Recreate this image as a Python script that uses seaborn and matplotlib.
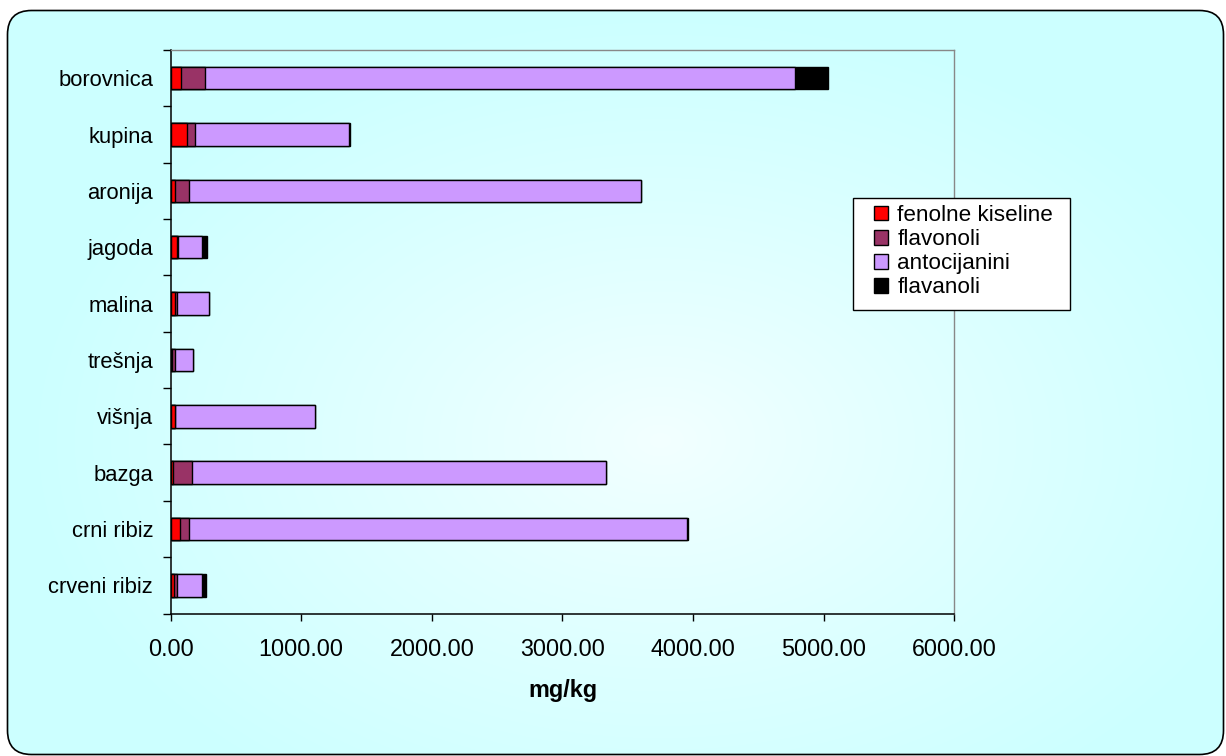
# Fenolni spojevi u bobičastom voću - horizontalni složeni stupci (mg/kg)

import numpy as np
import pandas as pd
import matplotlib
matplotlib.use('Agg')
import matplotlib.pyplot as plt
import seaborn as sns
from matplotlib.patches import Patch, Rectangle, FancyBboxPatch

# 1. Podaci (očitano s grafa)

fruits = ['borovnica', 'kupina', 'aronija', 'jagoda', 'malina',
          'trešnja', 'višnja', 'bazga', 'crni ribiz', 'crveni ribiz']
fenolne_kiseline = [82, 128, 36, 48, 31, 10, 31, 15, 74, 26]
flavonoli = [183, 56, 104, 8, 20, 21, 5, 146, 66, 21]
antocijanini = [4516, 1178, 3459, 184, 245, 143, 1072, 3172, 3810, 196]
flavanoli = [255, 13, 4, 35, 0, 0, 0, 0, 14, 26]

series = ['fenolne kiseline', 'flavonoli', 'antocijanini', 'flavanoli']
colors = ['#FF0000', '#993366', '#CC99FF', '#000000']

df = pd.DataFrame({'voce': fruits,
                   'fenolne kiseline': fenolne_kiseline,
                   'flavonoli': flavonoli,
                   'antocijanini': antocijanini,
                   'flavanoli': flavanoli})

# cumulative sums -> draw longest first so the segments stack
cum = df[series].cumsum(axis=1)
cum['voce'] = df['voce']

sns.set_style('white')
plt.rcParams['font.family'] = ['Liberation Sans', 'DejaVu Sans']
plt.rcParams['font.size'] = 15.5
plt.rcParams['text.color'] = 'black'
plt.rcParams['xtick.color'] = 'black'
plt.rcParams['ytick.color'] = 'black'
plt.rcParams['axes.labelcolor'] = 'black'

W, H = 1226, 756
fig = plt.figure(figsize=(W / 100, H / 100), dpi=100, facecolor='white')

# 2. Background: light cyan radial gradient inside a rounded frame

bg = fig.add_axes([0, 0, 1, 1], zorder=-10)
bg.set_xlim(0, W)
bg.set_ylim(H, 0)
bg.axis('off')
yy, xx = np.mgrid[0:H, 0:W]
d = np.sqrt(((xx - 660) / 640) ** 2 + ((yy - 440) / 430) ** 2)
t = np.clip(d, 0, 1) ** 0.9
red = (243 - (243 - 204) * t) / 255
img = np.dstack([red, np.ones_like(red), np.ones_like(red)])
im = bg.imshow(img, extent=(0, W, H, 0), aspect='auto', interpolation='bilinear')
frame = FancyBboxPatch((7.5, 10.5), 1216, 744,
                       boxstyle='round,pad=0,rounding_size=24',
                       facecolor='none', edgecolor='black', linewidth=1.2)
bg.add_patch(frame)
im.set_clip_path(frame)

# 3. Chart

left, right, top, bottom = 170.6, 954.4, 50, 613.5
ax = fig.add_axes([left / W, 1 - bottom / H, (right - left) / W, (bottom - top) / H])
ax.set_facecolor('none')

for name, col in reversed(list(zip(series, colors))):
    sns.barplot(data=cum, x=name, y='voce', orient='h', order=fruits,
                color=col, saturation=1, width=0.4, errorbar=None,
                edgecolor='black', linewidth=1.0, ax=ax)

ax.set_xlim(0, 6000)
ax.set_ylim(9.5, -0.5)
ax.set_xticks(np.arange(0, 6001, 1000))
ax.set_xticklabels([f'{v:.2f}' for v in np.arange(0, 6001, 1000)], fontsize=16.8)
ax.set_yticks(np.arange(-0.5, 10, 1), minor=True)
ax.tick_params(axis='y', which='major', length=0, pad=12.5, labelsize=15.8)
ax.tick_params(axis='y', which='minor', length=5.8, width=1, color='black', left=True)
ax.tick_params(axis='x', which='major', length=5, width=1, color='black', bottom=True, pad=12.5)
ax.set_ylabel('')
ax.set_xlabel('mg/kg', fontweight='bold', va='center', fontsize=16.8)
ax.xaxis.set_label_coords(0.5, -0.136)

for s in ['left', 'bottom']:
    ax.spines[s].set_color('black')
    ax.spines[s].set_linewidth(1.1)
for s in ['top', 'right']:
    ax.spines[s].set_color('#888888')
    ax.spines[s].set_linewidth(1.0)

# 4. Legend with a plain white box

fig.patches.append(Rectangle((853 / W, 1 - 310 / H), 217 / W, 112 / H,
                             transform=fig.transFigure, facecolor='white',
                             edgecolor='black', linewidth=1.0, zorder=5))
handles = [Patch(facecolor=c, edgecolor='black', linewidth=1.0, label=n)
           for n, c in zip(series, colors)]
leg = fig.legend(handles=handles, loc='upper left',
                 bbox_to_anchor=(874 / W, 1 - 205 / H),
                 frameon=False, borderpad=0, borderaxespad=0,
                 handlelength=0.62, handleheight=0.62, handletextpad=0.42,
                 labelspacing=0.14, fontsize=16.2)
leg.set_zorder(6)

fig.savefig('out.png', dpi=100, facecolor='white')
